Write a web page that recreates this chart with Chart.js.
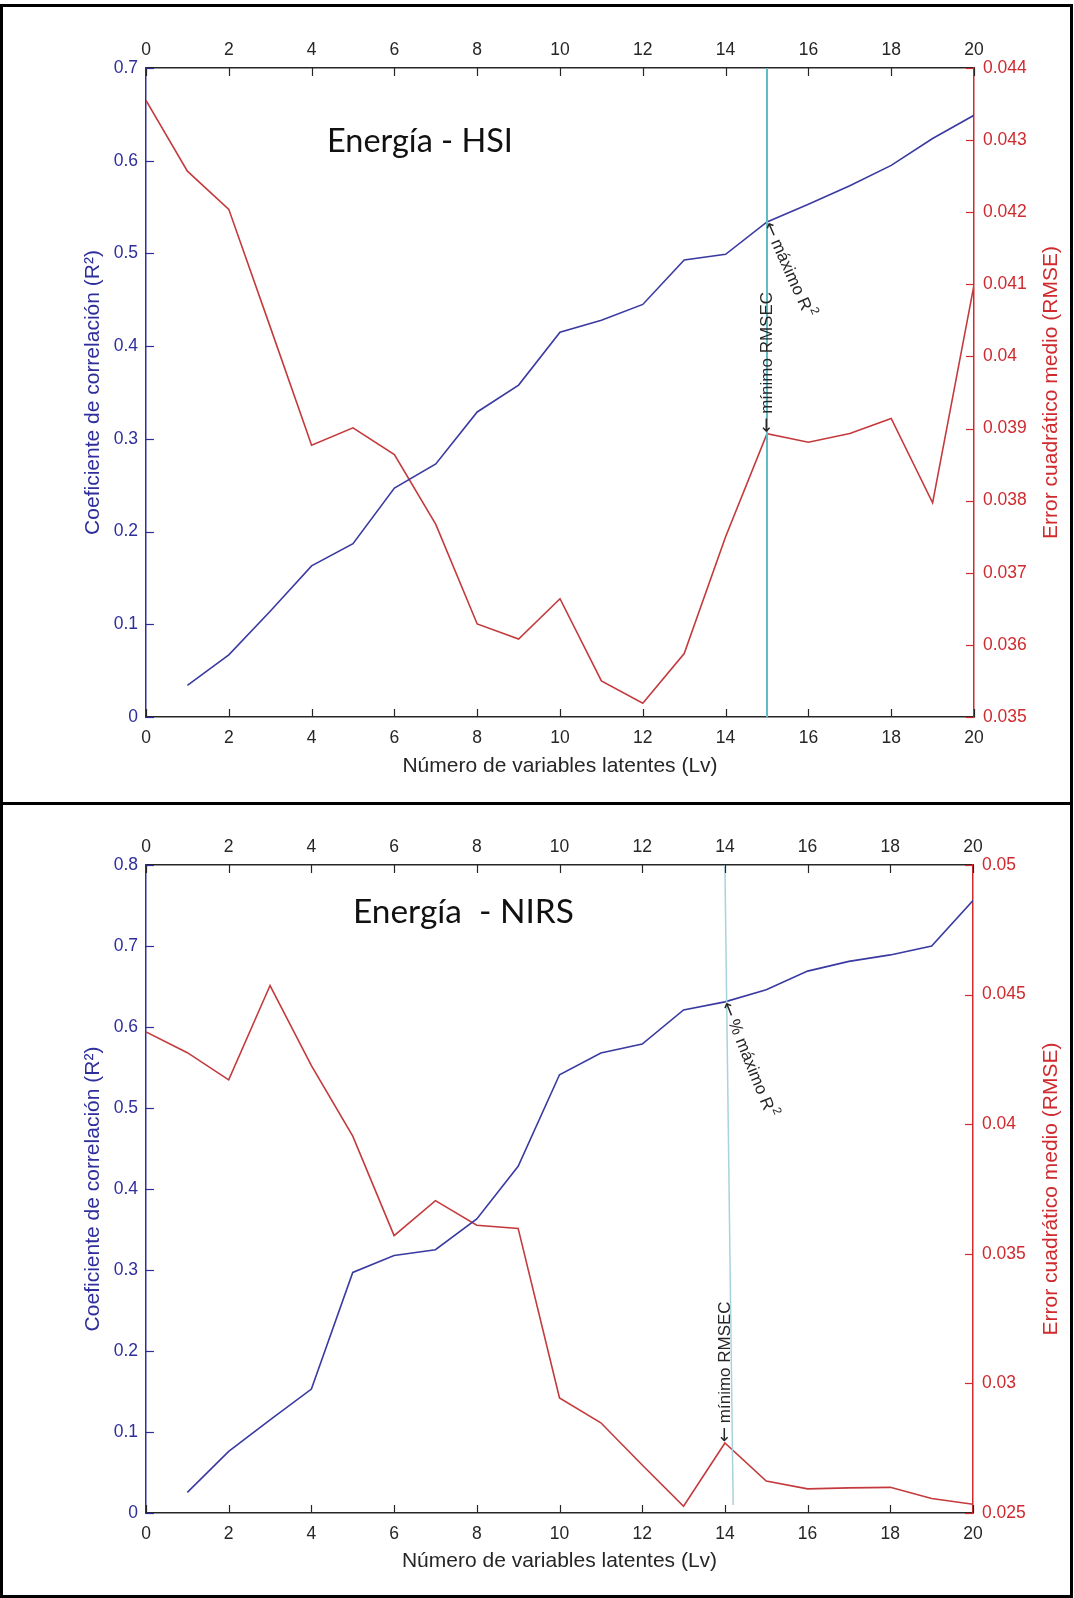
<!DOCTYPE html>
<html>
<head>
<meta charset="utf-8">
<script src="https://cdn.jsdelivr.net/npm/chart.js@4/dist/chart.umd.min.js"></script>
<style>
  html, body { margin: 0; padding: 0; background: #fff; }
  body { width: 1074px; height: 1598px; position: relative; overflow: hidden; }
  canvas { position: absolute; left: 0; }
  .frame { position: absolute; border: 3px solid #000; box-sizing: border-box; pointer-events: none; }
</style>
</head>
<body>
<canvas id="hsiChart" width="1074" height="803" style="top:0"></canvas>
<canvas id="nirsChart" width="1074" height="795" style="top:803px"></canvas>
<div class="frame" style="left:0;top:4px;width:1073px;height:801px"></div>
<div class="frame" style="left:0;top:802px;width:1073px;height:796px"></div>

<script>
// número de variables latentes
const lv = [0, 1, 2, 3, 4, 5, 6, 7, 8, 9, 10, 11, 12, 13, 14, 15, 16, 17, 18, 19, 20];

// Energía - HSI
const r2Hsi = [null, 0.034, 0.067, 0.114, 0.163, 0.187, 0.247, 0.273, 0.329, 0.358, 0.415,
  0.428, 0.445, 0.493, 0.499, 0.534, 0.553, 0.573, 0.595, 0.624, 0.649];
const rmseHsi = [0.04355, 0.04257, 0.04204, 0.04041, 0.03877, 0.03901, 0.03864, 0.03767, 0.03629, 0.03608, 0.03664,
  0.03550, 0.03519, 0.03588, 0.03750, 0.03893, 0.03881, 0.03893, 0.03914, 0.03797, 0.04099];
const hsiBestLv = 15;
const hsiGuideX = [15, 15];
const hsiGuideY = [0, 0.7];

// Energía - NIRS
const r2Nirs = [null, 0.0255, 0.076, 0.115, 0.153, 0.297, 0.318, 0.325, 0.363, 0.428, 0.541,
  0.568, 0.579, 0.621, 0.631, 0.646, 0.669, 0.681, 0.689, 0.700, 0.756];
const rmseNirs = [0.04356, 0.04276, 0.04171, 0.04535, 0.04226, 0.03954, 0.03570, 0.03705, 0.03610, 0.03598, 0.02944,
  0.02848, 0.02685, 0.02526, 0.02770, 0.02623, 0.02593, 0.02597, 0.02599, 0.02556, 0.02534];
const nirsBestLv = 14;
const nirsGuideX = [14, 14.2];
const nirsGuideY = [0.8, 0.01];

const BLUE = '#2e2e9c';
const BLUE_LINE = '#3a3aa2';
const RED = '#cf2a2e';
const RED_LINE = '#c43a3c';
const INK = '#262626';
const SANS = '"Liberation Sans", Arial, sans-serif';

Chart.defaults.font.family = SANS;

const xy = (xs, ys) => xs.map((x, i) => ({ x: x, y: ys[i] })).filter(p => p.y !== null);

// arrow + text (with an optional raised "2"), drawn left to right from the origin
function noteText(ctx, text, sup) {
  ctx.font = '18px "DejaVu Sans", sans-serif';
  ctx.fillText('←', 1, 0);
  let x = 1 + ctx.measureText('← ').width - 2;
  ctx.font = '17px ' + SANS;
  ctx.fillText(text, x, 0);
  if (sup) {
    x += ctx.measureText(text).width + 1;
    ctx.font = '12px ' + SANS;
    ctx.fillText('2', x, -7);
  }
}

// inward tick marks, the RMSE title and the rotated notes
const matlabAxes = {
  id: 'matlabAxes',
  afterDatasetsDraw(chart, args, o) {
    const ctx = chart.ctx;
    const a = chart.chartArea;
    const len = 8;
    ctx.save();
    ctx.lineWidth = 1.2;
    ['x', 'x2', 'y', 'y2'].forEach(id => {
      const s = chart.scales[id];
      ctx.strokeStyle = s.options.border.color;
      s.ticks.forEach(t => {
        const p = Math.round(s.getPixelForValue(t.value)) + 0.5;
        ctx.beginPath();
        if (id === 'x') { ctx.moveTo(p, a.bottom); ctx.lineTo(p, a.bottom - len); }
        if (id === 'x2') { ctx.moveTo(p, a.top); ctx.lineTo(p, a.top + len); }
        if (id === 'y') { ctx.moveTo(a.left, p); ctx.lineTo(a.left + len, p); }
        if (id === 'y2') { ctx.moveTo(a.right, p); ctx.lineTo(a.right - len, p); }
        ctx.stroke();
      });
    });

    // right axis title, read bottom to top
    ctx.fillStyle = RED;
    ctx.font = '21px ' + SANS;
    ctx.textAlign = 'center';
    ctx.textBaseline = 'middle';
    ctx.save();
    ctx.translate(chart.width - 23, (a.top + a.bottom) / 2);
    ctx.rotate(-Math.PI / 2);
    ctx.fillText('Error cuadrático medio (RMSE)', 0, 0);
    ctx.restore();

    // panel title
    ctx.fillStyle = '#111';
    let size = 40;
    ctx.font = size + 'px Lato, sans-serif';
    size = size * o.titleWidth / ctx.measureText(o.title).width;
    ctx.font = size + 'px Lato, sans-serif';
    ctx.textAlign = 'left';
    ctx.textBaseline = 'alphabetic';
    ctx.fillText(o.title, a.left + o.titleDx, a.top + o.titleDy);

    // notes at the selected number of latent variables
    const xs = chart.scales.x, y1 = chart.scales.y, y2 = chart.scales.y2;
    const px = xs.getPixelForValue(o.bestLv);
    ctx.fillStyle = INK;
    ctx.textBaseline = 'middle';

    ctx.save();
    ctx.translate(px, y1.getPixelForValue(o.r2[o.bestLv]));
    ctx.rotate(o.r2Angle * Math.PI / 180);
    noteText(ctx, o.r2Label, true);
    ctx.restore();

    ctx.save();
    ctx.translate(px, y2.getPixelForValue(o.rmse[o.bestLv]));
    ctx.rotate(-Math.PI / 2);
    noteText(ctx, 'mínimo RMSEC', false);
    ctx.restore();

    ctx.restore();
  }
};

function buildChart(canvasId, cfg) {
  return new Chart(document.getElementById(canvasId), {
    type: 'line',
    data: {
      datasets: [
        {
          data: xy(cfg.guideX, cfg.guideY),
          yAxisID: 'y',
          borderColor: cfg.guideColor,
          borderWidth: cfg.guideWidth
        },
        {
          data: xy(lv, cfg.r2),
          yAxisID: 'y',
          borderColor: BLUE_LINE,
          borderWidth: 1.6
        },
        {
          data: xy(lv, cfg.rmse),
          yAxisID: 'y2',
          borderColor: RED_LINE,
          borderWidth: 1.6
        }
      ]
    },
    options: {
      responsive: false,
      animation: false,
      events: [],
      elements: { point: { radius: 0 }, line: { tension: 0 } },
      layout: { padding: 0, autoPadding: false },
      plugins: {
        legend: { display: false },
        tooltip: { enabled: false },
        matlabAxes: cfg.notes
      },
      scales: {
        x: {
          type: 'linear', position: 'bottom', min: 0, max: 20,
          afterFit: s => { s.height = cfg.bottomH; },
          grid: { display: false, drawTicks: false },
          border: { color: INK, width: 1.5 },
          ticks: { stepSize: 2, padding: 10.5, color: INK, font: { size: 17.5 } },
          title: {
            display: true, text: 'Número de variables latentes (Lv)', color: INK,
            font: { size: 21 }, padding: { top: 0, bottom: 24 }
          }
        },
        x2: {
          type: 'linear', position: 'top', min: 0, max: 20,
          afterFit: s => { s.height = cfg.topH; },
          grid: { display: false, drawTicks: false },
          border: { color: INK, width: 1.5 },
          ticks: { stepSize: 2, padding: 7.5, color: INK, font: { size: 17.5 } }
        },
        y: {
          type: 'linear', position: 'left', min: 0, max: cfg.r2Max,
          afterFit: s => { s.width = 146; },
          grid: { display: false, drawTicks: false },
          border: { color: BLUE, width: 1.5 },
          ticks: {
            stepSize: 0.1, padding: 8, color: BLUE, font: { size: 17.5 },
            callback: v => String(parseFloat(v.toFixed(2)))
          },
          title: {
            display: true, text: 'Coeficiente de correlación (R²)', color: BLUE,
            font: { size: 21 }, padding: { top: 81, bottom: 0 }
          }
        },
        y2: {
          type: 'linear', position: 'right', min: cfg.rmseMin, max: cfg.rmseMax,
          afterFit: s => { s.width = cfg.rightW; },
          grid: { display: false, drawTicks: false },
          border: { color: RED, width: 1.5 },
          ticks: {
            stepSize: cfg.rmseStep, padding: 9, color: RED, font: { size: 17.5 },
            callback: v => String(parseFloat(v.toFixed(4)))
          }
        }
      }
    },
    plugins: [matlabAxes]
  });
}

buildChart('hsiChart', {
  r2: r2Hsi, rmse: rmseHsi,
  guideX: hsiGuideX, guideY: hsiGuideY, guideColor: '#5fbcc6', guideWidth: 2,
  r2Max: 0.7, rmseMin: 0.035, rmseMax: 0.044, rmseStep: 0.001,
  topH: 68, bottomH: 86, rightW: 100,
  notes: {
    title: 'Energía - HSI', titleWidth: 186, titleDx: 181, titleDy: 84,
    bestLv: hsiBestLv, r2: r2Hsi, rmse: rmseHsi,
    r2Label: 'máximo R', r2Angle: 66
  }
});

buildChart('nirsChart', {
  r2: r2Nirs, rmse: rmseNirs,
  guideX: nirsGuideX, guideY: nirsGuideY, guideColor: '#a9d3dc', guideWidth: 1.5,
  r2Max: 0.8, rmseMin: 0.025, rmseMax: 0.05, rmseStep: 0.005,
  topH: 62, bottomH: 85, rightW: 101,
  notes: {
    title: 'Energía  - NIRS', titleWidth: 221, titleDx: 207, titleDy: 58,
    bestLv: nirsBestLv, r2: r2Nirs, rmse: rmseNirs,
    r2Label: '% máximo R', r2Angle: 68
  }
});
</script>
</body>
</html>
